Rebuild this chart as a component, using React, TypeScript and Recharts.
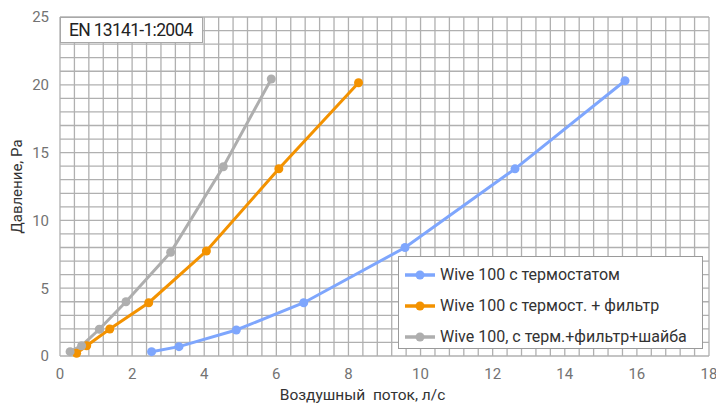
import React from "react";
import {
  LineChart,
  Line,
  XAxis,
  YAxis,
  CartesianGrid,
  Label,
} from "recharts";

// air flow (l/s) and pressure (Pa)
const thermoFlow = [2.54, 3.3, 4.89, 6.76, 9.57, 12.62, 15.67];
const thermoPressure = [0.32, 0.69, 1.92, 3.93, 8.0, 13.8, 20.3];

const filterFlow = [0.46, 0.74, 1.38, 2.46, 4.06, 6.07, 8.28];
const filterPressure = [0.2, 0.76, 1.99, 3.93, 7.74, 13.81, 20.15];

const washerFlow = [0.28, 0.6, 1.09, 1.83, 3.07, 4.53, 5.86];
const washerPressure = [0.32, 0.76, 1.97, 4.0, 7.65, 13.96, 20.43];

// labelled ticks
const xLabels = [0, 2, 4, 6, 8, 10, 12, 14, 16, 18];
const yLabels = [0, 5, 10, 15, 20, 25];

const SERIES = [
  { name: "Wive 100 с термостатом", color: "#7ea6fd", flow: thermoFlow, pressure: thermoPressure },
  { name: "Wive 100 с термост. + фильтр", color: "#f39200", flow: filterFlow, pressure: filterPressure },
  { name: "Wive 100, с терм.+фильтр+шайба", color: "#aeaeae", flow: washerFlow, pressure: washerPressure },
];

// grid steps: 0.4 l/s and 1 Pa
const xGrid = Array.from({ length: 46 }, (_, i) => +(i * 0.4).toFixed(1));
const yGrid = Array.from({ length: 26 }, (_, i) => i);

const FONT = "Roboto, 'Noto Sans', sans-serif";

export default function App() {
  return (
    <div
      style={{
        position: "absolute",
        left: 0,
        top: 0,
        width: 716,
        height: 403,
        background: "#fff",
        fontFamily: FONT,
      }}
    >
      <LineChart
        width={716}
        height={403}
        margin={{ top: 17, right: 7, bottom: 0, left: 0 }}
        style={{ overflow: "visible" }}
      >
        <CartesianGrid stroke="#b0b0b0" strokeWidth={1.3} />
        <XAxis
          type="number"
          dataKey="x"
          domain={[0, 18]}
          ticks={xGrid}
          interval={0}
          tickFormatter={(v) => (xLabels.includes(v) ? String(v) : "")}
          height={47}
          axisLine={false}
          tickLine={false}
          tickSize={0}
          tickMargin={12}
          tick={{ fill: "#737373", fontSize: 15, fontFamily: FONT }}
        >
          <Label
            value={"Воздушный\u00a0\u00a0поток, л/с"}
            position="insideBottom"
            offset={3}
            dx={-22}
            style={{ fill: "#333", fontSize: 15.5, fontFamily: FONT }}
          />
        </XAxis>
        <YAxis
          type="number"
          domain={[0, 25]}
          ticks={yGrid}
          interval={0}
          tickFormatter={(v) => (yLabels.includes(v) ? String(v) : "")}
          width={60}
          axisLine={false}
          tickLine={false}
          tickSize={0}
          tickMargin={11}
          tick={{ fill: "#737373", fontSize: 15, fontFamily: FONT }}
        >
          <Label
            value="Давление, Ра"
            angle={-90}
            position="insideLeft"
            offset={17}
            textAnchor="middle"
            style={{ fill: "#333", fontSize: 15, fontFamily: FONT, textAnchor: "middle" }}
          />
        </YAxis>
        {SERIES.map((s) => (
          <Line
            key={s.name}
            data={s.flow.map((x, i) => ({ x, y: s.pressure[i] }))}
            dataKey="y"
            name={s.name}
            type="linear"
            stroke={s.color}
            strokeWidth={3}
            dot={{ r: 4.5, fill: s.color, stroke: "none" }}
            activeDot={false}
            isAnimationActive={false}
          />
        ))}
      </LineChart>

      <div
        style={{
          position: "absolute",
          left: 60,
          top: 17,
          width: 143,
          height: 26,
          boxSizing: "border-box",
          border: "1px solid #a8a8a8",
          background: "#fff",
          color: "#222",
          fontSize: 17.5,
          letterSpacing: -0.7,
          lineHeight: "25px",
          paddingLeft: 8,
        }}
      >
        EN 13141-1:2004
      </div>

      <div
        style={{
          position: "absolute",
          left: 398,
          top: 256,
          width: 305,
          height: 93,
          boxSizing: "border-box",
          border: "1px solid #9a9a9a",
          background: "#fff",
          paddingTop: 2,
        }}
      >
        {SERIES.map((s) => (
          <div
            key={s.name}
            style={{ display: "flex", alignItems: "center", height: 31, paddingLeft: 6 }}
          >
            <svg width={30} height={12} style={{ marginRight: 5 }}>
              <line x1={0} y1={6} x2={30} y2={6} stroke={s.color} strokeWidth={3.5} />
              <circle cx={15} cy={6} r={4.5} fill={s.color} />
            </svg>
            <span style={{ fontSize: 16, color: "#333" }}>{s.name}</span>
          </div>
        ))}
      </div>
    </div>
  );
}
